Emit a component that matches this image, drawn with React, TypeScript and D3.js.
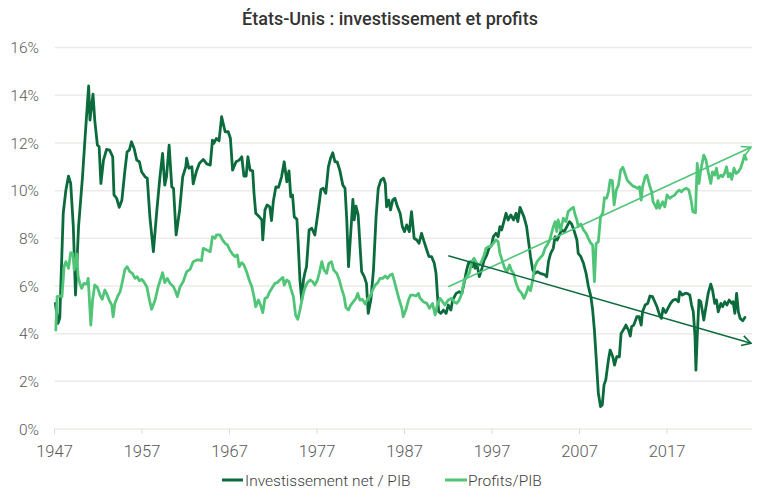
import React from "react";
import * as d3 from "d3";

// Investissement net / PIB (%), trimestriel
const investYears = [
  1947.1, 1947.4, 1947.6, 1948.0, 1948.3, 1948.6, 1948.85, 1949.15, 1949.4, 1949.75,
  1950.2, 1950.5, 1950.9, 1951.05, 1951.4, 1951.6, 1951.9, 1952.1, 1952.3, 1952.6,
  1952.95, 1953.3, 1953.65, 1953.8, 1954.1, 1954.4, 1954.7, 1955.05, 1955.3, 1955.55,
  1955.8, 1956.1, 1956.4, 1956.7, 1956.95, 1957.35, 1957.6, 1957.9, 1958.3, 1958.7,
  1959.05, 1959.35, 1959.6, 1959.8, 1960.1, 1960.4, 1960.6, 1960.9, 1961.3, 1961.65,
  1962.0, 1962.1, 1962.35, 1962.7, 1962.85, 1963.2, 1963.55, 1964.0, 1964.4, 1964.8,
  1965.05, 1965.2, 1965.5, 1965.8, 1966.1, 1966.5, 1966.85, 1967.1, 1967.35, 1967.75,
  1968.1, 1968.4, 1968.65, 1968.9, 1969.1, 1969.35, 1969.65, 1969.8, 1970.0, 1970.4,
  1970.7, 1970.8, 1971.05, 1971.3, 1971.6, 1971.8, 1972.0, 1972.3, 1972.6, 1972.95,
  1973.25, 1973.55, 1973.8, 1974.0, 1974.2, 1974.4, 1974.7, 1974.85, 1975.05, 1975.25,
  1975.45, 1975.6, 1975.8, 1976.1, 1976.4, 1976.75, 1977.15, 1977.45, 1977.7, 1978.0,
  1978.3, 1978.55, 1978.8, 1979.05, 1979.3, 1979.6, 1979.95, 1980.2, 1980.4, 1980.6,
  1980.8, 1981.1, 1981.25, 1981.45, 1981.7, 1981.9, 1982.1, 1982.4, 1982.65, 1982.85,
  1983.15, 1983.45, 1983.75, 1984.0, 1984.3, 1984.6, 1984.8, 1984.95, 1985.2, 1985.4,
  1985.65, 1985.9, 1986.2, 1986.5, 1986.75, 1987.0, 1987.25, 1987.55, 1987.8, 1988.1,
  1988.4, 1988.65, 1988.95, 1989.2, 1989.55, 1989.8, 1990.1, 1990.4, 1990.6, 1990.75,
  1990.9, 1991.15, 1991.45, 1991.75, 1992.0, 1992.3, 1992.5, 1992.9, 1993.25, 1993.55,
  1993.8, 1994.1, 1994.3, 1994.5, 1994.7, 1994.85, 1995.05, 1995.25, 1995.55, 1995.8,
  1996.1, 1996.4, 1996.65, 1996.95, 1997.15, 1997.45, 1997.7, 1997.9, 1998.1, 1998.3,
  1998.6, 1998.85, 1999.15, 1999.45, 1999.75, 1999.95, 2000.2, 2000.4, 2000.65, 2000.95,
  2001.15, 2001.4, 2001.65, 2001.9, 2002.2, 2002.5, 2002.8, 2003.05, 2003.25, 2003.45,
  2003.7, 2004.0, 2004.2, 2004.45, 2004.7, 2004.95, 2005.25, 2005.55, 2005.85, 2006.1,
  2006.35, 2006.7, 2006.85, 2007.15, 2007.45, 2007.75, 2008.0, 2008.3, 2008.5, 2008.7,
  2008.9, 2009.15, 2009.4, 2009.6, 2009.8, 2010.0, 2010.3, 2010.5, 2010.8, 2011.0,
  2011.25, 2011.55, 2011.75, 2012.0, 2012.3, 2012.6, 2012.8, 2012.95, 2013.2, 2013.55,
  2013.8, 2014.05, 2014.2, 2014.5, 2014.8, 2015.05, 2015.35, 2015.6, 2015.85, 2016.15,
  2016.35, 2016.55, 2016.85, 2017.1, 2017.4, 2017.7, 2018.0, 2018.3, 2018.45, 2018.75,
  2019.05, 2019.3, 2019.6, 2019.8, 2020.0, 2020.2, 2020.3, 2020.45, 2020.65, 2020.85,
  2021.05, 2021.2, 2021.45, 2021.7, 2022.0, 2022.2, 2022.45, 2022.65, 2022.85, 2023.15,
  2023.35, 2023.6, 2023.85, 2024.1, 2024.4, 2024.55, 2024.75, 2024.95, 2025.15, 2025.35,
  2025.65, 2025.9,
];
const investValues = [
  5.27, 4.43, 4.65, 9.06, 10.02, 10.61, 10.3, 8.49, 5.62, 8.5,
  10.58, 12.26, 14.39, 12.96, 14.05, 12.96, 11.91, 11.84, 10.3, 11.28,
  11.73, 11.7, 11.42, 9.82, 9.68, 9.3, 9.6, 10.86, 11.63, 11.7,
  12.05, 11.77, 11.28, 11.21, 10.79, 10.58, 10.52, 8.9, 7.44, 9.19,
  10.58, 11.56, 10.23, 10.58, 11.91, 10.16, 10.1, 8.14, 9.19, 10.58,
  11.0, 11.36, 10.94, 11.0, 10.28, 10.79, 11.14, 11.31, 11.12, 11.07,
  12.12, 11.98, 12.19, 12.09, 13.1, 12.47, 12.47, 12.2, 10.86, 11.21,
  11.28, 11.42, 10.61, 10.61, 11.42, 10.86, 10.83, 9.89, 9.05, 8.9,
  8.77, 7.93, 9.19, 9.4, 9.32, 8.74, 9.53, 10.16, 10.14, 10.58,
  11.21, 10.37, 10.83, 9.74, 9.82, 8.9, 8.8, 7.79, 6.25, 5.41,
  6.25, 6.53, 6.81, 8.35, 8.42, 8.14, 9.19, 10.05, 10.1, 9.89,
  11.0, 11.36, 11.59, 11.21, 11.21, 10.86, 10.23, 10.1, 8.77, 6.81,
  7.93, 9.63, 8.77, 9.35, 8.98, 7.79, 6.6, 6.39, 6.11, 4.85,
  5.41, 6.67, 8.9, 10.1, 10.44, 10.52, 10.3, 9.32, 9.6, 9.19,
  9.6, 9.68, 9.32, 9.05, 8.49, 8.28, 8.56, 8.28, 9.12, 8.0,
  7.93, 7.79, 8.21, 7.9, 7.5, 7.23, 7.23, 6.95, 6.53, 5.69,
  4.92, 4.85, 4.99, 4.85, 5.2, 4.99, 5.41, 5.69, 5.76, 5.69,
  6.11, 6.67, 6.95, 7.02, 6.81, 7.09, 6.74, 6.95, 6.39, 6.67,
  7.09, 7.3, 7.58, 7.72, 8.07, 8.21, 8.07, 8.49, 8.35, 8.63,
  9.05, 8.77, 8.98, 8.77, 9.05, 8.7, 9.3, 9.12, 8.9, 8.49,
  7.93, 7.23, 6.67, 6.53, 6.6, 6.53, 6.5, 6.46, 6.39, 7.02,
  7.37, 7.58, 8.07, 7.93, 8.14, 8.35, 8.28, 8.49, 8.7, 8.6,
  8.35, 7.93, 7.37, 7.23, 6.95, 6.53, 6.0, 5.55, 4.99, 4.15,
  3.0, 1.5, 0.94, 1.01, 1.85, 2.06, 2.89, 3.31, 3.03, 2.68,
  3.03, 3.03, 4.01, 4.15, 4.36, 4.15, 3.9, 4.29, 4.36, 4.71,
  4.71, 4.36, 4.92, 5.2, 5.27, 5.58, 5.55, 5.34, 5.13, 4.78,
  4.64, 5.06, 4.88, 5.06, 5.27, 5.41, 5.44, 5.34, 5.76, 5.62,
  5.69, 5.69, 5.62, 5.2, 4.92, 3.87, 2.47, 3.87, 5.41, 5.34,
  4.92, 4.57, 5.13, 5.69, 6.08, 5.83, 5.27, 5.41, 4.92, 5.27,
  5.13, 5.34, 5.2, 5.41, 5.27, 5.34, 4.85, 5.69, 4.92, 4.64,
  4.54, 4.68,
];

// Profits / PIB (%), trimestriel
const profitYears = [
  1947.15, 1947.3, 1947.6, 1947.85, 1948.1, 1948.3, 1948.6, 1948.85, 1949.1, 1949.25,
  1949.55, 1949.7, 1949.9, 1950.1, 1950.35, 1950.7, 1950.85, 1951.15, 1951.35, 1951.6,
  1951.9, 1952.2, 1952.45, 1952.75, 1952.95, 1953.25, 1953.55, 1953.7, 1953.9, 1954.2,
  1954.5, 1954.8, 1955.05, 1955.3, 1955.6, 1955.9, 1956.2, 1956.45, 1956.7, 1956.95,
  1957.2, 1957.55, 1957.85, 1958.1, 1958.5, 1958.85, 1959.15, 1959.35, 1959.6, 1959.9,
  1960.2, 1960.6, 1960.85, 1961.05, 1961.35, 1961.7, 1962.1, 1962.5, 1962.85, 1963.25,
  1963.55, 1963.8, 1964.0, 1964.4, 1964.8, 1965.05, 1965.35, 1965.5, 1965.9, 1966.2,
  1966.5, 1966.75, 1967.05, 1967.35, 1967.65, 1967.9, 1968.1, 1968.4, 1968.65, 1968.95,
  1969.25, 1969.55, 1969.8, 1970.0, 1970.3, 1970.55, 1970.8, 1971.05, 1971.3, 1971.6,
  1971.95, 1972.2, 1972.45, 1972.75, 1973.1, 1973.25, 1973.55, 1973.8, 1974.0, 1974.3,
  1974.55, 1974.8, 1975.05, 1975.35, 1975.6, 1975.9, 1976.2, 1976.5, 1976.75, 1977.05,
  1977.25, 1977.55, 1977.8, 1978.1, 1978.35, 1978.65, 1978.9, 1979.25, 1979.55, 1979.8,
  1980.1, 1980.3, 1980.6, 1980.85, 1981.15, 1981.45, 1981.65, 1981.9, 1982.2, 1982.5,
  1982.75, 1983.05, 1983.35, 1983.65, 1983.95, 1984.2, 1984.5, 1984.8, 1985.05, 1985.35,
  1985.6, 1985.85, 1986.1, 1986.4, 1986.7, 1986.85, 1987.15, 1987.45, 1987.7, 1988.0,
  1988.3, 1988.6, 1988.75, 1989.15, 1989.55, 1989.85, 1990.2, 1990.5, 1990.75, 1991.05,
  1991.35, 1991.6, 1992.0, 1992.4, 1992.65, 1992.95, 1993.25, 1993.55, 1993.8, 1994.1,
  1994.4, 1994.7, 1994.95, 1995.25, 1995.55, 1995.8, 1996.1, 1996.3, 1996.6, 1996.85,
  1997.15, 1997.45, 1997.7, 1997.9, 1998.2, 1998.45, 1998.7, 1999.0, 1999.2, 1999.45,
  1999.75, 2000.05, 2000.4, 2000.65, 2000.9, 2001.15, 2001.4, 2001.65, 2001.9, 2002.15,
  2002.45, 2002.8, 2003.05, 2003.3, 2003.6, 2003.95, 2004.2, 2004.4, 2004.55, 2004.85,
  2005.15, 2005.45, 2005.7, 2006.0, 2006.3, 2006.5, 2006.7, 2006.85, 2007.15, 2007.45,
  2007.75, 2008.0, 2008.3, 2008.5, 2008.7, 2008.9, 2009.15, 2009.4, 2009.65, 2009.85,
  2010.1, 2010.3, 2010.5, 2010.75, 2010.95, 2011.2, 2011.45, 2011.7, 2011.95, 2012.2,
  2012.45, 2012.8, 2013.1, 2013.35, 2013.6, 2013.85, 2014.05, 2014.2, 2014.5, 2014.7,
  2014.85, 2015.05, 2015.25, 2015.4, 2015.6, 2015.8, 2015.95, 2016.15, 2016.5, 2016.75,
  2017.0, 2017.3, 2017.65, 2017.9, 2018.15, 2018.4, 2018.65, 2018.9, 2019.2, 2019.5,
  2019.75, 2019.95, 2020.25, 2020.45, 2020.65, 2020.85, 2021.2, 2021.45, 2021.7, 2022.0,
  2022.2, 2022.45, 2022.65, 2022.85, 2023.15, 2023.35, 2023.6, 2023.8, 2024.0, 2024.2,
  2024.4, 2024.65, 2024.9, 2025.15, 2025.4, 2025.65, 2025.85, 2026.05,
];
const profitValues = [
  4.15, 5.55, 5.58, 5.55, 6.81, 7.02, 6.74, 7.4, 7.37, 6.67,
  7.34, 6.39, 6.11, 5.9, 6.11, 6.08, 6.32, 4.36, 5.41, 6.04,
  5.94, 5.62, 5.44, 5.83, 5.69, 5.41, 5.2, 4.71, 5.27, 5.55,
  5.76, 6.25, 6.7, 6.81, 6.6, 6.53, 6.32, 6.39, 6.22, 6.28,
  6.18, 5.97, 5.41, 5.02, 5.41, 5.97, 6.32, 6.56, 6.14, 6.32,
  6.11, 5.97, 5.76, 5.55, 5.97, 6.18, 6.6, 6.7, 7.02, 7.09,
  7.09, 7.06, 7.58, 7.51, 7.44, 8.07, 8.0, 8.14, 8.14, 7.93,
  7.79, 7.72, 7.5, 7.33, 7.23, 7.3, 6.81, 6.98, 6.88, 6.6,
  6.25, 5.97, 5.55, 5.13, 5.41, 5.2, 4.88, 5.48, 5.52, 5.76,
  5.97, 6.11, 6.14, 6.25, 6.36, 6.04, 6.25, 6.18, 5.9, 5.55,
  4.78, 4.6, 4.99, 5.55, 5.9, 6.14, 6.25, 6.18, 6.04, 6.25,
  6.53, 7.02, 6.67, 6.53, 6.95, 7.02, 6.67, 6.53, 6.25, 5.9,
  5.55, 5.1, 4.99, 5.2, 5.34, 5.48, 5.69, 5.41, 5.44, 5.24,
  5.44, 5.55, 5.83, 6.04, 6.14, 6.32, 6.32, 6.42, 6.32, 6.46,
  6.5, 6.18, 5.83, 5.41, 5.06, 4.71, 4.99, 5.41, 5.62, 5.62,
  5.58, 5.69, 5.5, 5.34, 5.27, 5.06, 5.27, 4.78, 5.2, 5.48,
  5.34, 5.2, 5.41, 5.48, 5.34, 5.27, 5.41, 5.69, 6.18, 6.39,
  6.53, 7.02, 7.16, 6.95, 6.88, 7.02, 7.3, 7.58, 7.65, 7.65,
  7.79, 7.93, 7.86, 7.37, 7.02, 6.74, 6.6, 6.88, 6.67, 6.53,
  6.11, 5.83, 5.69, 5.48, 5.69, 5.97, 5.8, 6.25, 6.81, 7.02,
  7.16, 7.3, 7.58, 7.72, 7.93, 8.42, 8.7, 8.28, 8.77, 8.35,
  8.84, 8.7, 9.12, 9.22, 9.3, 8.98, 8.77, 8.49, 8.6, 8.35,
  8.21, 8.0, 7.79, 7.72, 6.18, 7.79, 7.85, 8.9, 9.05, 9.7,
  9.68, 9.95, 10.44, 10.42, 9.4, 10.02, 10.23, 10.86, 10.98, 10.72,
  10.44, 10.3, 10.19, 10.16, 10.1, 10.16, 9.6, 10.16, 10.58, 10.65,
  10.44, 10.16, 9.95, 9.53, 9.4, 9.26, 9.58, 9.26, 9.53, 9.32,
  9.82, 9.68, 9.77, 9.82, 9.95, 10.02, 9.95, 10.05, 10.1, 10.02,
  9.6, 9.12, 9.07, 11.14, 10.3, 10.86, 11.49, 11.28, 10.79, 10.3,
  10.79, 10.65, 10.94, 10.52, 10.65, 10.58, 10.75, 11.0, 10.58, 10.72,
  10.47, 10.94, 10.72, 10.79, 10.94, 11.21, 11.49, 11.31,
];

// Tendances depuis 1992 (début, fin)
const trendYears = [1992.0, 2026.6];
const profitTrend = [5.97, 11.82];
const investTrend = [7.27, 3.6];

const yTicks = [0, 2, 4, 6, 8, 10, 12, 14, 16];
const xTicks = [1947, 1957, 1967, 1977, 1987, 1997, 2007, 2017];

const title = "États-Unis : investissement et profits";
const seriesNames = ["Investissement net / PIB", "Profits/PIB"];

const WIDTH = 764;
const HEIGHT = 499;
const DARK = "#0c6b3d";
const LIGHT = "#50c577";
const GRID = "#ecebe7";
const FONT = "Roboto, 'Noto Sans', sans-serif";

export default function App() {
  const x = d3.scaleLinear().domain([1947, 2026.71]).range([54.5, 752]);
  const y = d3.scaleLinear().domain([0, 16]).range([429, 47.6]);

  const line = d3
    .line<[number, number]>()
    .x((d) => x(d[0]))
    .y((d) => y(d[1]));

  const investPts = investYears.map((t, i) => [t, investValues[i]] as [number, number]);
  const profitPts = profitYears.map((t, i) => [t, profitValues[i]] as [number, number]);
  const profitTrendPts = trendYears.map((t, i) => [t, profitTrend[i]] as [number, number]);
  const investTrendPts = trendYears.map((t, i) => [t, investTrend[i]] as [number, number]);

  return (
    <div style={{ position: "absolute", left: 0, top: 0 }}>
      <svg width={WIDTH} height={HEIGHT} style={{ display: "block", background: "#fff" }}>
        <defs>
          <marker
            id="arrowLight"
            viewBox="0 0 12 12"
            refX="11"
            refY="6"
            markerWidth="12"
            markerHeight="12"
            markerUnits="userSpaceOnUse"
            orient="auto"
          >
            <path d="M2,1 L11,6 L2,11" fill="none" stroke={LIGHT} strokeWidth={1.6} />
          </marker>
          <marker
            id="arrowDark"
            viewBox="0 0 12 12"
            refX="11"
            refY="6"
            markerWidth="12"
            markerHeight="12"
            markerUnits="userSpaceOnUse"
            orient="auto"
          >
            <path d="M2,1 L11,6 L2,11" fill="none" stroke={DARK} strokeWidth={1.6} />
          </marker>
        </defs>

        <text
          x={390}
          y={25}
          textAnchor="middle"
          fontFamily={FONT}
          fontSize={18}
          fontWeight={500}
          fill="#333"
        >
          {title}
        </text>

        {/* grille horizontale et étiquettes de l'axe Y */}
        {yTicks.map((t) => (
          <g key={t}>
            <line x1={54.5} x2={752} y1={y(t)} y2={y(t)} stroke={GRID} strokeWidth={1.5} />
            <text
              x={39}
              y={y(t)}
              dy="0.36em"
              textAnchor="end"
              fontFamily={FONT}
              fontSize={15.5}
              fontWeight={300}
              fill="#595959"
            >
              {t}%
            </text>
          </g>
        ))}

        {/* axe X */}
        {xTicks.map((t) => (
          <g key={t}>
            <line x1={x(t)} x2={x(t)} y1={429} y2={434} stroke="#d9d9d6" strokeWidth={1} />
            <text
              x={x(t)}
              y={456.5}
              textAnchor="middle"
              fontFamily={FONT}
              fontSize={16.5}
              fontWeight={300}
              fill="#595959"
            >
              {t}
            </text>
          </g>
        ))}

        <path
          d={line(investPts) ?? ""}
          fill="none"
          stroke={DARK}
          strokeWidth={2.8}
          strokeLinejoin="round"
          strokeLinecap="round"
        />
        <path
          d={line(profitPts) ?? ""}
          fill="none"
          stroke={LIGHT}
          strokeWidth={2.8}
          strokeLinejoin="round"
          strokeLinecap="round"
        />

        {/* droites de tendance */}
        <path
          d={line(profitTrendPts) ?? ""}
          fill="none"
          stroke={LIGHT}
          strokeWidth={1.6}
          markerEnd="url(#arrowLight)"
        />
        <path
          d={line(investTrendPts) ?? ""}
          fill="none"
          stroke={DARK}
          strokeWidth={1.6}
          markerEnd="url(#arrowDark)"
        />

        {/* légende */}
        <g fontFamily={FONT} fontSize={15.5} fontWeight={300} fill="#404040">
          <line x1={222} x2={243} y1={480} y2={480} stroke={DARK} strokeWidth={3} />
          <text x={245} y={485.5}>
            {seriesNames[0]}
          </text>
          <line x1={445} x2={467} y1={480} y2={480} stroke={LIGHT} strokeWidth={3} />
          <text x={468} y={485.5}>
            {seriesNames[1]}
          </text>
        </g>
      </svg>
    </div>
  );
}
